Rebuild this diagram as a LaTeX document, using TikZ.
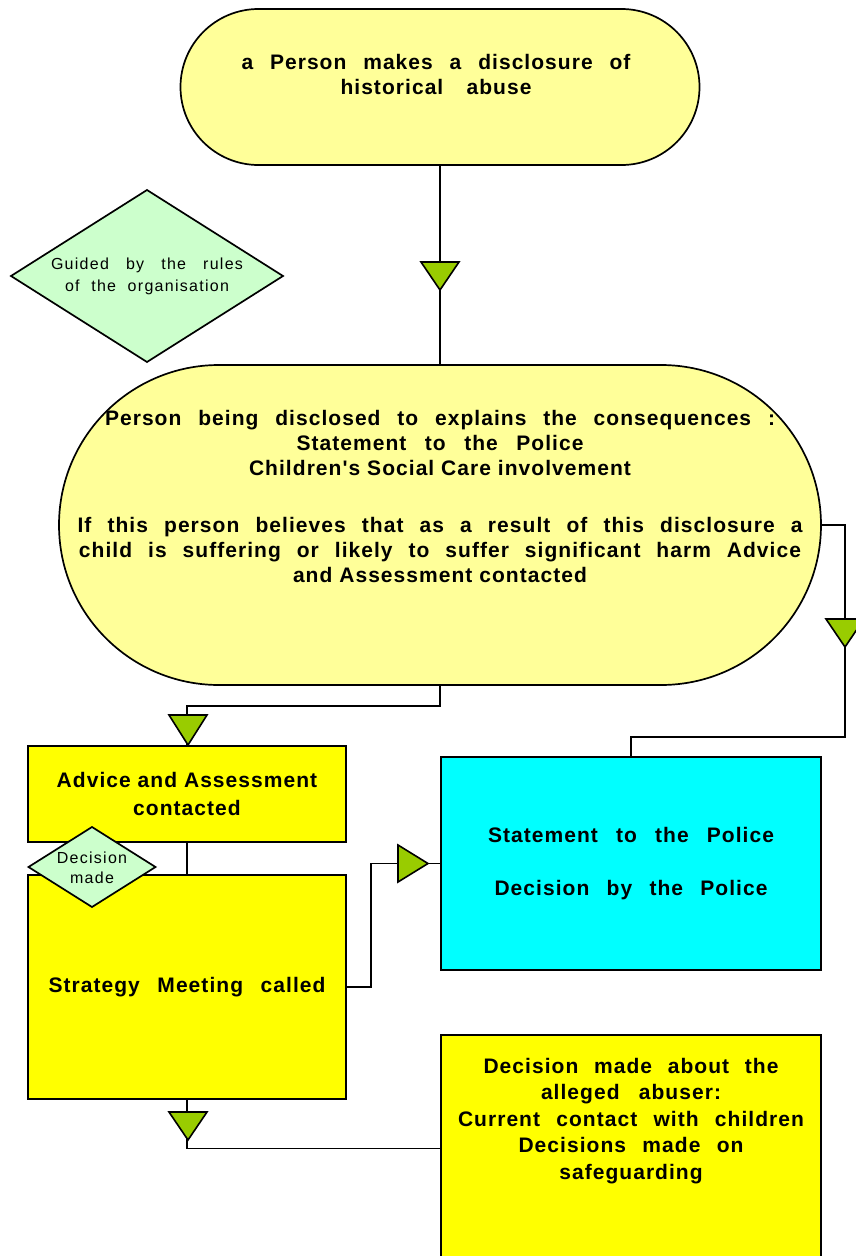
\documentclass[tikz,border=0pt]{standalone}
\usepackage{fontspec}
\setmainfont{Liberation Sans}
\newfontfamily\bls[LetterSpace=5]{Liberation Sans}
\newfontfamily\rls[LetterSpace=8]{Liberation Sans}
\usetikzlibrary{shapes.geometric,calc}
\definecolor{lyel}{HTML}{FFFF99}
\definecolor{yel}{HTML}{FFFF00}
\definecolor{cyn}{HTML}{00FFFF}
\definecolor{lgrn}{HTML}{CCFFCC}
\definecolor{trig}{HTML}{99CC00}
\newcommand{\tridn}[2]{\filldraw[tri] (#1-19,#2-14) -- (#1+19,#2-14) -- (#1,#2+14) -- cycle;}
\newcommand{\jline}[2]{\makebox[#1pt][s]{#2}}
\newcommand{\bfa}{\bls\bfseries\fontsize{21}{25}\selectfont}
\newcommand{\bfb}{\bls\bfseries\fontsize{21}{28}\selectfont}
\newcommand{\bfc}{\bls\bfseries\fontsize{21}{26.5}\selectfont}
\newcommand{\rgd}{\rls\fontsize{16}{20}\selectfont}
\newcommand{\rge}{\rls\fontsize{16}{22}\selectfont}
\begin{document}
\begin{tikzpicture}[x=1pt,y=-1pt,
  shp/.style={draw, line width=1.7pt, inner sep=0pt, outer sep=0pt},
  term/.style={shp, fill=lyel},
  ybox/.style={shp, fill=yel},
  gdiam/.style={shp, diamond, fill=lgrn},
  conn/.style={draw, line width=1.7pt},
  tri/.style={draw, fill=trig, line width=1.6pt, line join=miter},
  btxt/.style={align=center, inner sep=0pt, font=\bfa},
  dtxt/.style={align=center, inner sep=0pt, font=\rgd}]
\useasboundingbox (0,0) rectangle (856,1256);
\fill[white] (0,0) rectangle (856,1256);

% shapes
\node[term, minimum width=519pt, minimum height=156pt, rounded corners=78pt] (top) at (440,87) {};
\node[term, minimum width=762pt, minimum height=320pt, rounded corners=160pt] (big) at (440,525) {};
\node[gdiam, minimum width=272pt, minimum height=172pt] (guide) at (147,276) {};
\node[ybox, minimum width=318pt, minimum height=96pt, align=center, font=\bfb] (adv) at (187,794)
  {Advice and Assessment\\contacted};
\node[ybox, minimum width=318pt, minimum height=224pt, font=\bfa] (strat) at (187,987)
  {\jline{277}{Strategy Meeting called}};
\node[shp, fill=cyn, minimum width=380pt, minimum height=213pt, align=center, font=\bfa] (cyan) at (631,863.5)
  {\jline{286}{Statement to the Police}\\[28pt]\jline{273}{Decision by the Police}};
\node[ybox, minimum width=380pt, minimum height=227pt] (dec) at (631,1148.5) {};

% texts
\node[btxt] (toptext) at (436,74) {\jline{389}{a Person makes a disclosure of}\\\jline{191}{historical abuse}};
\node[btxt] (bigtext) at (440,496) {\jline{670}{Person being disclosed to explains the consequences :}\\
\jline{287}{Statement to the Police}\\
Children's Social Care involvement\\[32pt]
\jline{725}{If this person believes that as a result of this disclosure a}\\
\jline{722}{child is suffering or likely to suffer significant harm Advice}\\
and Assessment contacted};
\node[btxt, font=\bfc] (dectext) at (631,1121)
  {\jline{295}{Decision made about the}\\\jline{180}{alleged abuser:}\\\jline{346}{Current contact with children}\\\jline{225}{Decisions made on}\\safeguarding};
\node[dtxt, font=\rge] (guidetext) at (147,276) {\jline{192}{Guided by the rules}\\\jline{164}{of the organisation}};

% connectors
\coordinate (rc) at (845,737);
\draw[conn] (top.south) -- (big.north);
\draw[conn] (big.south) -- ++(0,21) -| (adv.north);
\draw[conn] (big.east) -| (rc) -| (cyan.north);
\draw[conn] (adv.south) -- (strat.north);
\draw[conn] (strat.east) -- ++(25,0) |- (cyan.west);
\draw[conn] (strat.south) |- (dec.west);

% decision diamond over the boxes
\node[gdiam, minimum width=127pt, minimum height=80pt] (dmade) at (92,867) {};
\node[dtxt] (dmadetext) at (92,868) {Decision\\made};

% arrow triangles
\tridn{440}{276}
\filldraw[tri] (169,715) -- (207,715) -- (188,745) -- cycle;
\tridn{845}{633}
\tridn{188}{1126}
\filldraw[tri] (398,845) -- (428,863.5) -- (398,882) -- cycle;
\end{tikzpicture}
\end{document}
